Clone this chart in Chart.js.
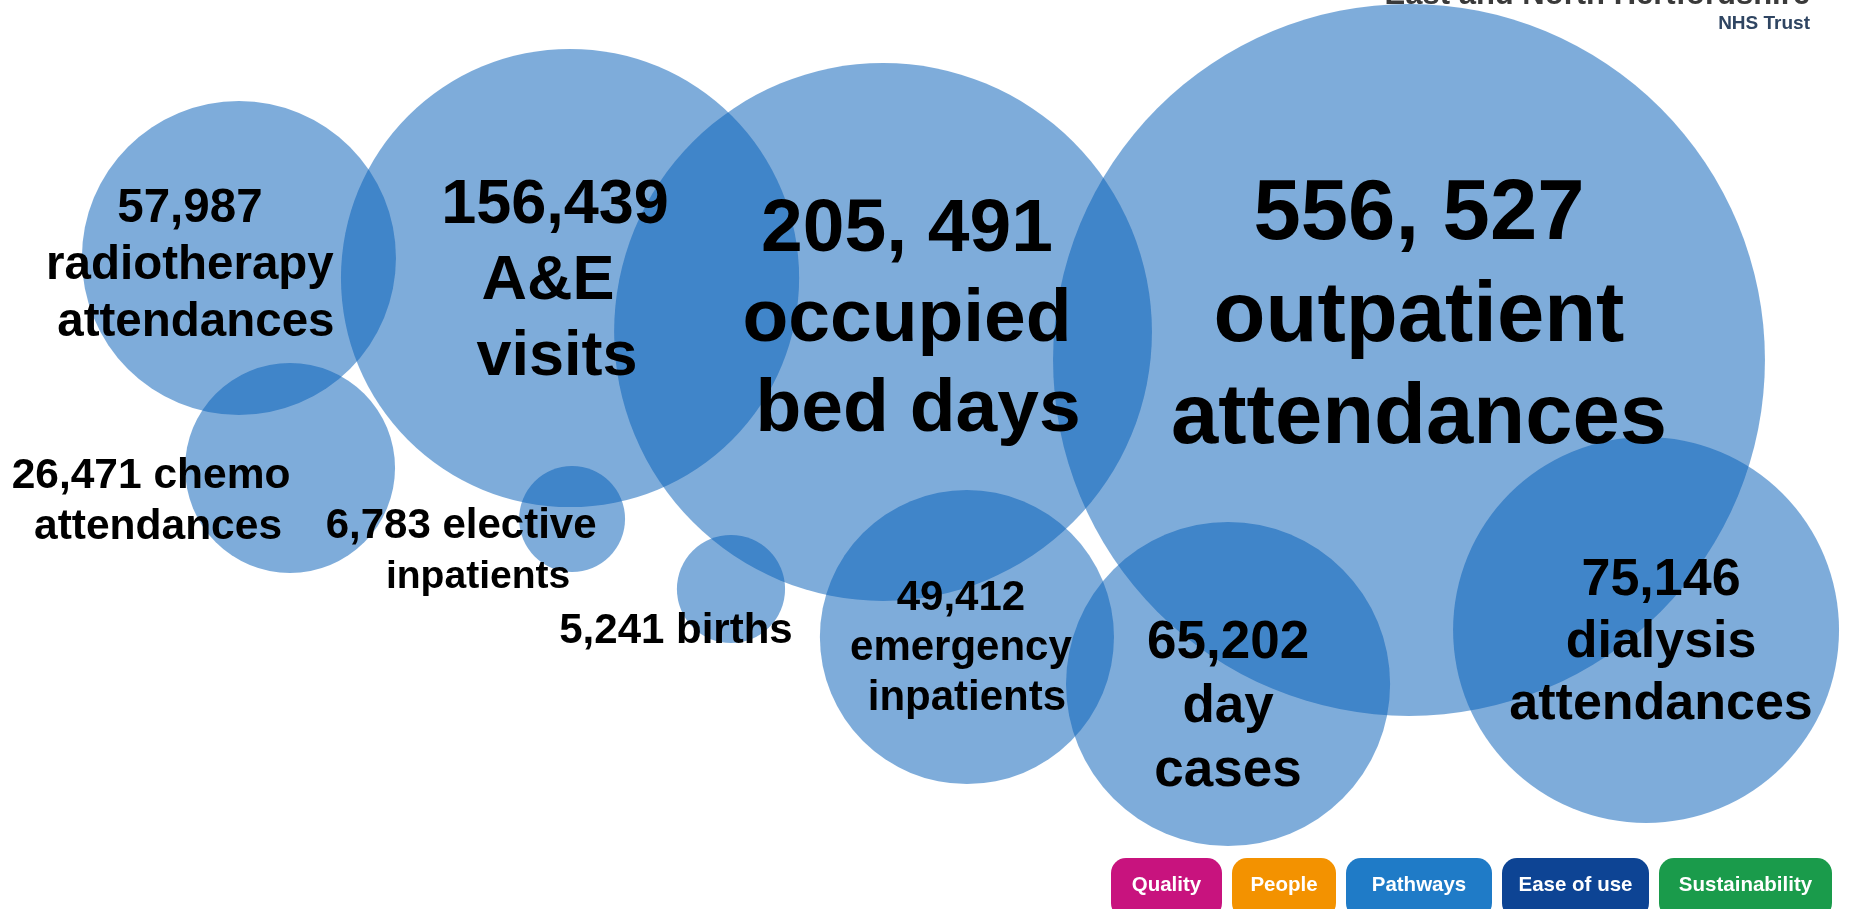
<!DOCTYPE html>
<html>
<head>
<meta charset="utf-8">
<title>Trust activity in a year</title>
<script src="https://cdn.jsdelivr.net/npm/chart.js"></script>
<style>
  html, body { margin: 0; padding: 0; background: #fff; overflow: hidden; }
  #wrap { position: relative; width: 1852px; height: 909px; overflow: hidden; }
  #chartBox { position: absolute; left: 0; top: 0; width: 1852px; height: 909px; }
  .trust { position: absolute; right: 42px; white-space: nowrap; font-family: "Liberation Sans", Arial, sans-serif; font-weight: bold; }
  .trust.name { top: -22px; font-size: 31px; line-height: 31px; color: #3a3a3a; }
  .trust.org { top: 13px; font-size: 19px; line-height: 19px; color: #2f4562; }
  .tags { position: absolute; left: 1111px; top: 858px; display: flex; gap: 10px; }
  .tags span {
    display: block; height: 60px; border-radius: 15px; color: #fff; text-align: center;
    font-family: "Liberation Sans", Arial, sans-serif; font-weight: bold; font-size: 20.5px; line-height: 52px;
  }
</style>
</head>
<body>
<div id="wrap">
  <div id="chartBox"><canvas id="chartBubbles"></canvas></div>
  <div class="trust name">East and North Hertfordshire</div>
  <div class="trust org">NHS Trust</div>
  <div class="tags">
    <span style="width:111px;background:#c8137e">Quality</span>
    <span style="width:104px;background:#f39200">People</span>
    <span style="width:146px;background:#1f7bc7">Pathways</span>
    <span style="width:147px;background:#0d4494">Ease of use</span>
    <span style="width:173px;background:#1a9b4b">Sustainability</span>
  </div>
</div>
<script>
// Yearly activity totals, one bubble each.
const categories = [
  "radiotherapy attendances", "A&E visits", "occupied bed days", "outpatient attendances",
  "chemo attendances", "elective inpatients", "births", "emergency inpatients",
  "day cases", "dialysis attendances",
];
const counts = [57987, 156439, 205491, 556527, 26471, 6783, 5241, 49412, 65202, 75146];
// separator the poster uses for thousands (two of them carry a stray space)
const thousandsSep = [",", ",", ", ", ", ", ",", ",", ",", ",", ",", ","];
// caption lines under (or after) the number
const captions = [
  ["radiotherapy", "attendances"], ["A&E", "visits"], ["occupied", "bed days"],
  ["outpatient", "attendances"], ["chemo", "attendances"], ["elective", "inpatients"],
  ["births"], ["emergency", "inpatients"], ["day", "cases"], ["dialysis", "attendances"],
];
// bubble layout: x and y in percent of the plot, radius in x-axis units
const bubbleX = [12.9, 30.78, 47.68, 76.08, 15.66, 30.89, 39.47, 52.21, 66.31, 88.88];
const bubbleY = [28.38, 30.58, 36.52, 39.6, 51.49, 57.1, 64.8, 70.08, 75.25, 69.31];
const bubbleR = [8.48, 12.37, 14.52, 19.22, 5.67, 2.86, 2.92, 7.94, 8.75, 10.42];

// text styling per bubble: font size, offset of the first baseline from the bubble centre,
// and optional per-line nudges / size factors
const labelStyle = [
  { size: 47.5, dx: -49, dy: -36, lineDx: [0, 0, 6] },
  { size: 63, dx: -15, dy: -55, lineDx: [0, -7, 2] },
  { size: 75, dx: 24, dy: -81, lineDx: [0, 0, 11] },
  { size: 85, dx: 10, dy: -121 },
  { size: 42.5, dx: -136, dy: 20, inline: true, lineDx: [-3, 4] },
  { size: 42, dx: -106, dy: 19, inline: true, lineDx: [-5, 12], lineScale: [1, 0.93] },
  { size: 42, dx: -55, dy: 54, inline: true },
  { size: 42, dx: -6, dy: -27, lineDx: [0, 0, 6] },
  { size: 53, dx: 0, dy: -26 },
  { size: 52, dx: 15, dy: -35 },
];

function formatCount(n, sep) {
  return String(n).replace(/\B(?=(\d{3})+(?!\d))/g, sep);
}

const bubbleLabels = {
  id: "bubbleLabels",
  afterDatasetsDraw(chart) {
    const { ctx } = chart;
    const points = chart.getDatasetMeta(0).data;
    ctx.save();
    ctx.fillStyle = "#000";
    ctx.textAlign = "center";
    ctx.textBaseline = "alphabetic";
    points.forEach((pt, i) => {
      const st = labelStyle[i];
      const value = formatCount(counts[i], thousandsSep[i]);
      const lines = st.inline
        ? [value + " " + captions[i][0], ...captions[i].slice(1)]
        : [value, ...captions[i]];
      const lineHeight = Math.round(st.size * 1.2);
      lines.forEach((line, k) => {
        const nudge = st.lineDx ? st.lineDx[k] || 0 : 0;
        const scale = st.lineScale ? st.lineScale[k] || 1 : 1;
        ctx.font = `bold ${st.size * scale}px "Liberation Sans", Arial, sans-serif`;
        ctx.fillText(line, pt.x + st.dx + nudge, pt.y + st.dy + k * lineHeight);
      });
    });
    ctx.restore();
  },
};

const chart = new Chart(document.getElementById("chartBubbles"), {
  type: "bubble",
  data: {
    labels: categories,
    datasets: [{
      label: "Activity",
      data: counts.map((c, i) => ({ x: bubbleX[i], y: bubbleY[i], r: 1, count: c })),
      backgroundColor: "rgba(8, 96, 184, 0.52)",
      borderWidth: 0,
      hoverRadius: 0,
      clip: false,
    }],
  },
  options: {
    responsive: true,
    maintainAspectRatio: false,
    animation: false,
    events: [],
    layout: { padding: 0, autoPadding: false },
    plugins: { legend: { display: false }, tooltip: { enabled: false } },
    scales: {
      x: { type: "linear", min: 0, max: 100, display: false },
      y: { type: "linear", min: 0, max: 100, reverse: true, display: false },
    },
  },
  plugins: [bubbleLabels],
});

// bubble radius is held in x-axis units; turn it into pixels through the x scale
const sx = chart.scales.x;
chart.data.datasets[0].data.forEach((d, i) => {
  d.r = sx.getPixelForValue(bubbleR[i]) - sx.getPixelForValue(0);
});
chart.update();
</script>
</body>
</html>
